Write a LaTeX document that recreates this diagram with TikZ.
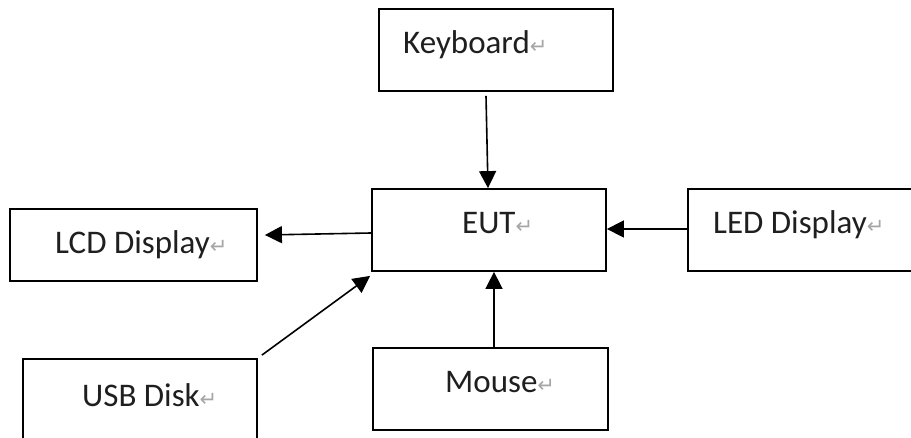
\documentclass[tikz,border=0pt]{standalone}
\usepackage{fontspec}
\setmainfont{Carlito}
\newfontfamily\retfont{DejaVu Sans}
\usetikzlibrary{arrows.meta,calc}
\newcommand{\pmark}{{\retfont\fontsize{21}{24}\selectfont\textcolor{gray!70}{↵}}}
\tikzset{
  blockbox/.style={draw=black, line width=1.8pt, rectangle, inner sep=0pt, minimum width=234pt, minimum height=82pt},
  lbl/.style={anchor=base west, inner sep=0pt, font=\fontsize{33}{39}\selectfont, text=black!88},
  conn/.style={line width=1.6pt, -{Triangle[length=17pt,width=17pt]}}
}
\begin{document}
\begin{tikzpicture}[x=1pt,y=-1pt]
\clip (0,0) rectangle (911,438);
\fill[white] (0,0) rectangle (911,438);
% boxes
\node[blockbox] (kb) at (496,50) {};
\node[blockbox] (eut) at (489,230) {};
\node[blockbox] (led) at (805,230) {};
\node[blockbox, minimum width=247pt, minimum height=72pt] (lcd) at (133.5,245) {};
\node[blockbox] (usb) at (140,400) {};
\node[blockbox, minimum width=235pt] (mouse) at (490.5,389) {};
% labels
\node[lbl] (kbt) at (403,54) {Keyboard\pmark};
\node[lbl] (eutt) at (462,234) {EUT\pmark};
\node[lbl] (ledt) at (713,234) {LED Display\pmark};
\node[lbl] (lcdt) at (55,254) {LCD Display\pmark};
\node[lbl] (usbt) at (82,407) {USB Disk\pmark};
\node[lbl] (mouset) at (445,392) {Mouse\pmark};
% connectors
\draw[conn] ($(kb.south)+(-10,4)$) -- ($(eut.north)+(-1,0)$);
\draw[conn] ($(eut.west)+(0,3)$) -- ($(lcd.east)+(7,-10)$);
\draw[conn] ($(led.west)+(0,-1)$) -- ($(eut.east)+(0,-1)$);
\draw[conn] ($(usb.north east)+(4,-3)$) -- ($(eut.south west)+(-1,4)$);
\draw[conn] ($(mouse.north)+(3.5,0)$) -- ($(eut.south)+(5,0)$);
\end{tikzpicture}
\end{document}
